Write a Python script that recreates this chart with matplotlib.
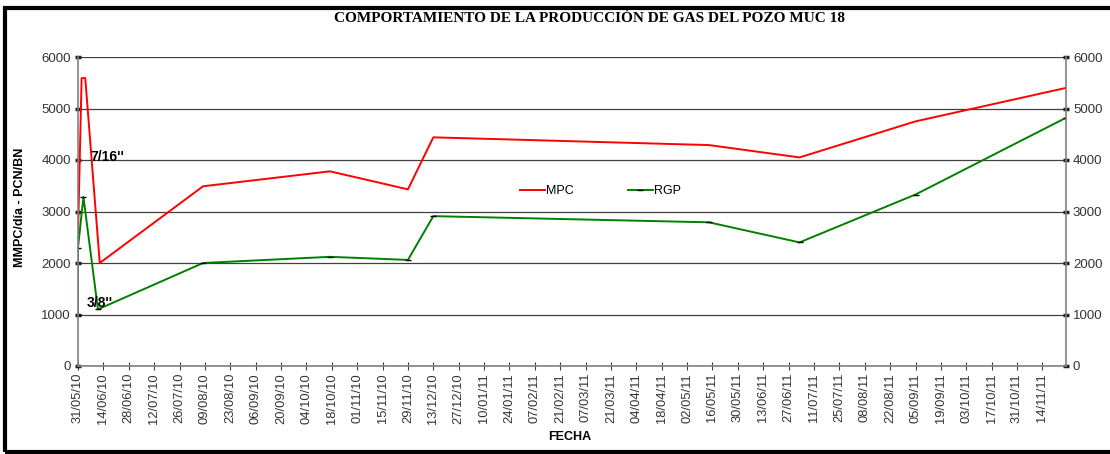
import matplotlib
matplotlib.use("Agg")
import matplotlib.pyplot as plt
import matplotlib.dates as mdates
import matplotlib.patches as patches
import pandas as pd

# datos
fechas_mpc = ["31/05/10", "31/05/10", "02/06/10", "04/06/10", "12/06/10", "08/08/10",
              "17/10/10", "29/11/10", "13/12/10", "14/05/11", "03/07/11", "05/09/11", "27/11/11"]
mpc = [1530, 2540, 5590, 5590, 2000, 3490, 3780, 3430, 4440, 4290, 4050, 4750, 5400]

fechas_rgp = ["31/05/10", "31/05/10", "03/06/10", "11/06/10", "08/08/10", "17/10/10",
              "29/11/10", "13/12/10", "14/05/11", "03/07/11", "05/09/11", "27/11/11"]
rgp = [1000, 2300, 3280, 1100, 2000, 2120, 2060, 2910, 2790, 2400, 3330, 4820]

y_ticks = [0, 1000, 2000, 3000, 4000, 5000, 6000]

x_mpc = pd.to_datetime(fechas_mpc, dayfirst=True)
x_rgp = pd.to_datetime(fechas_rgp, dayfirst=True)
x_ticks = pd.date_range("2010-05-31", "2011-11-14", freq="14D")

fig = plt.figure(figsize=(11.10, 4.54), dpi=100)
plt.rcParams['font.family'] = ['Liberation Sans', 'DejaVu Sans']
ax = fig.add_axes([78 / 1110, 88 / 454, 988 / 1110, 309 / 454])

ax.plot(x_mpc, mpc, color="#ff0000", lw=1.4, label="MPC")
ax.plot(x_rgp, rgp, color="#008000", lw=1.4, label="RGP",
        marker="_", markersize=4, markeredgecolor="black", markeredgewidth=1)

ax.set_xlim(pd.Timestamp("2010-05-31"), pd.Timestamp("2011-11-27"))
ax.set_ylim(0, 6000)
ax.set_xticks(x_ticks)
ax.xaxis.set_major_formatter(mdates.DateFormatter("%d/%m/%y"))
ax.set_yticks(y_ticks)
ax.yaxis.grid(True, color="#404040", lw=0.9)
ax.set_axisbelow(True)

ax.spines["top"].set_visible(False)
for s in ["left", "right", "bottom"]:
    ax.spines[s].set_color("#808080")
    ax.spines[s].set_linewidth(1.2)

ax.tick_params(axis="x", direction="inout", length=6, color="#404040",
               labelsize=9.3, labelcolor="#333333", labelrotation=90, pad=2)
ax.tick_params(axis="y", direction="inout", length=4, width=2.5, color="#202020",
               labelsize=9.5, labelcolor="#333333", right=True, labelright=True, pad=3)

ax.text(pd.Timestamp("2010-06-07"), 4050, "7/16''", fontsize=10, fontweight="bold",
        va="center", ha="left")
ax.text(pd.Timestamp("2010-06-05"), 1230, "3/8''", fontsize=10, fontweight="bold",
        va="center", ha="left")

ax.legend(loc="center", bbox_to_anchor=(0.529, 0.566), ncol=2, frameon=False,
          fontsize=9, handlelength=2.0, handletextpad=0.1, columnspacing=4.3)

fig.text(590 / 1110, 1 - 18 / 454, "COMPORTAMIENTO DE LA PRODUCCIÓN DE GAS DEL POZO MUC 18",
         family="Liberation Serif", fontsize=11, fontweight="bold", ha="center", va="center")
fig.text(20 / 1110, 1 - 207 / 454, "MMPC/día - PCN/BN", rotation=90, fontsize=9,
         fontweight="bold", ha="center", va="center")
fig.text(570 / 1110, 1 - 437 / 454, "FECHA", fontsize=9, fontweight="bold",
         ha="center", va="center")

# marco negro
fig.patches.append(patches.Rectangle((5 / 1110, 2 / 454), 1.2, 1 - 9.5 / 454,
                                     transform=fig.transFigure, fill=False,
                                     edgecolor="black", lw=3))

fig.savefig("out.png", dpi=100)
